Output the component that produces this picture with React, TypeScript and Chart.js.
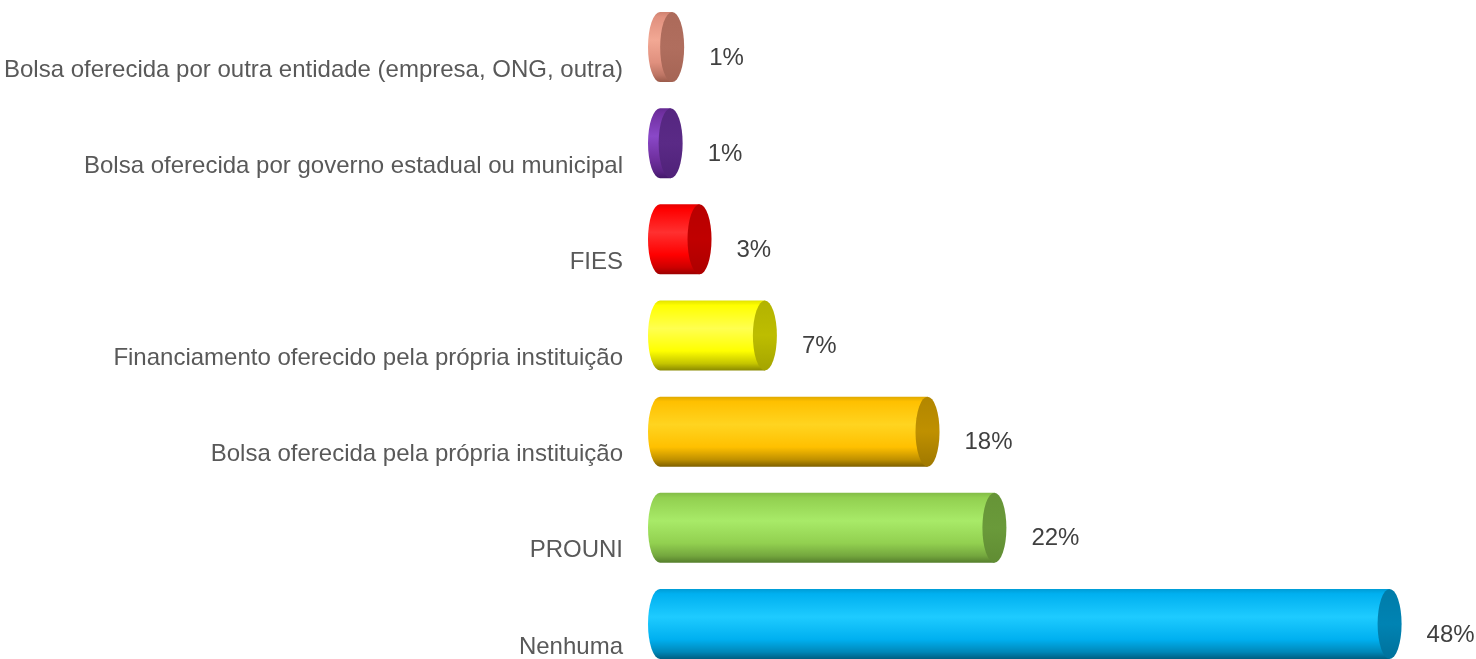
import React, { useEffect, useRef } from 'react';
import { Chart, registerables } from 'chart.js';

Chart.register(...registerables);

const categories = [
  'Bolsa oferecida por outra entidade (empresa, ONG, outra)',
  'Bolsa oferecida por governo estadual ou municipal',
  'FIES',
  'Financiamento oferecido pela própria instituição',
  'Bolsa oferecida pela própria instituição',
  'PROUNI',
  'Nenhuma',
];

const shares = [0.8, 0.7, 2.6, 6.9, 17.6, 22.0, 48.0];

const baseColors = ['#E0907E', '#7030A0', '#FF0000', '#FFFF00', '#FFC000', '#92D050', '#00B0F0'];
const lightColors = ['#F2A894', '#8A48C8', '#FF3030', '#FFFF50', '#FFD420', '#A8EA68', '#1ECBFF'];
const darkColors = ['#9A5A4A', '#43186A', '#9A0000', '#8A8A00', '#7E6000', '#557E2C', '#005F82'];
const capColors = ['#B06E5E', '#5A2A86', '#C00000', '#BDBD00', '#BF9000', '#6A9A3A', '#0083B3'];

const RX = 12;
const LABEL_GAP = 25;
const FONT = "'Liberation Sans', Arial, sans-serif";

function hexToRgb(h: string) {
  const n = parseInt(h.slice(1), 16);
  return [(n >> 16) & 255, (n >> 8) & 255, n & 255];
}
function mix(a: string, b: string, t: number) {
  const A = hexToRgb(a);
  const B = hexToRgb(b);
  const c = A.map((v, i) => Math.round(v + (B[i] - v) * t));
  return `rgb(${c[0]},${c[1]},${c[2]})`;
}

const cylinderPlugin = {
  id: 'cylinders',
  afterDatasetsDraw(chart: any) {
    const ctx = chart.ctx as CanvasRenderingContext2D;
    const meta = chart.getDatasetMeta(0);
    meta.data.forEach((bar: any, i: number) => {
      const { x, y, base, height } = bar.getProps(['x', 'y', 'base', 'height'], true);
      const ry = height / 2;
      const top = y - ry;
      const bottom = y + ry;
      const b = baseColors[i];
      const l = lightColors[i];
      const d = darkColors[i];
      ctx.save();
      const g = ctx.createLinearGradient(0, top, 0, bottom);
      g.addColorStop(0, mix(b, d, 0.25));
      g.addColorStop(0.07, b);
      g.addColorStop(0.4, l);
      g.addColorStop(0.72, b);
      g.addColorStop(0.9, mix(b, d, 0.5));
      g.addColorStop(1, d);
      ctx.beginPath();
      ctx.moveTo(base, top);
      ctx.lineTo(x, top);
      ctx.lineTo(x, bottom);
      ctx.lineTo(base, bottom);
      ctx.ellipse(base, y, RX, ry, 0, Math.PI / 2, Math.PI * 1.5);
      ctx.closePath();
      ctx.fillStyle = g;
      ctx.fill();

      const cg = ctx.createLinearGradient(0, top, 0, bottom);
      cg.addColorStop(0, mix(capColors[i], d, 0.2));
      cg.addColorStop(0.5, capColors[i]);
      cg.addColorStop(1, mix(capColors[i], d, 0.5));
      ctx.beginPath();
      ctx.ellipse(x, y, RX, ry, 0, 0, Math.PI * 2);
      ctx.fillStyle = cg;
      ctx.fill();
      ctx.restore();

      ctx.save();
      ctx.font = `24px ${FONT}`;
      ctx.fillStyle = '#404040';
      ctx.textAlign = 'left';
      ctx.textBaseline = 'middle';
      ctx.fillText(`${Math.round(shares[i])}%`, x + RX + LABEL_GAP, y + 11);
      ctx.restore();
    });
  },
};

export default function App() {
  const canvasRef = useRef<HTMLCanvasElement | null>(null);

  useEffect(() => {
    const canvas = canvasRef.current;
    if (!canvas) return;
    const chart = new Chart(canvas, {
      type: 'bar',
      data: {
        labels: categories,
        datasets: [
          {
            data: shares,
            backgroundColor: 'rgba(0,0,0,0)',
            borderWidth: 0,
            barThickness: 70,
          },
        ],
      },
      options: {
        indexAxis: 'y',
        responsive: false,
        animation: false,
        devicePixelRatio: 1,
        layout: { padding: { left: 0, right: 56, top: 0, bottom: 0 } },
        plugins: {
          legend: { display: false },
          tooltip: { enabled: false },
          title: { display: false },
        },
        scales: {
          x: { display: false, min: 0, max: 50 },
          y: {
            grid: { display: false, drawTicks: false },
            border: { display: false },
            ticks: {
              color: '#595959',
              font: { family: FONT, size: 24 },
              padding: 37,
              labelOffset: 23,
              autoSkip: false,
            },
            afterFit: (scale: any) => {
              scale.width = 660;
              scale.paddingTop = 0;
              scale.paddingBottom = 0;
            },
          },
        },
      },
      plugins: [cylinderPlugin],
    });
    return () => chart.destroy();
  }, []);

  return (
    <div
      style={{
        position: 'fixed',
        left: 0,
        top: -1,
        width: 1476,
        height: 673,
        overflow: 'hidden',
        background: '#ffffff',
      }}
    >
      <canvas ref={canvasRef} width={1476} height={673} style={{ display: 'block' }} />
    </div>
  );
}
